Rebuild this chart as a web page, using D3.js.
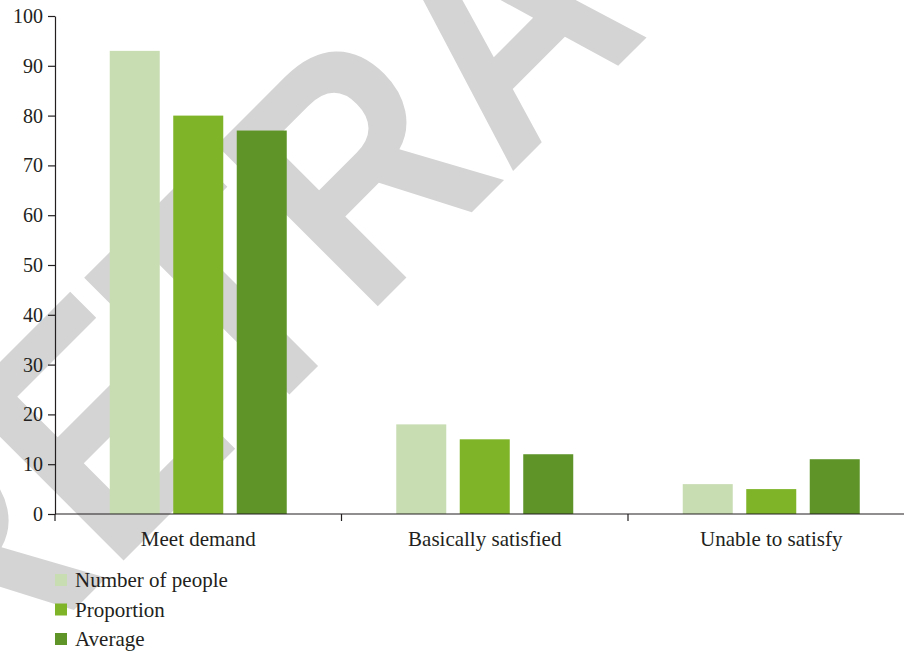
<!DOCTYPE html>
<html>
<head>
<meta charset="utf-8">
<script src="https://cdn.jsdelivr.net/npm/d3@7"></script>
<style>
  html, body { margin: 0; padding: 0; background: #fff; }
  svg { display: block; }
  text { font-family: "Liberation Serif", "Times New Roman", "DejaVu Serif", serif; fill: #231f20; }
</style>
</head>
<body>
<svg id="chart" width="904" height="652"></svg>
<script>
const categories = ["Meet demand", "Basically satisfied", "Unable to satisfy"];
const seriesNames = ["Number of people", "Proportion", "Average"];
const numberOfPeople = [93, 18, 6];
const proportion = [80, 15, 5];
const average = [77, 12, 11];
const yTicks = [0, 10, 20, 30, 40, 50, 60, 70, 80, 90, 100];
const colors = ["#c9ddb3", "#7fb428", "#5e9428"];
const watermarkText = "RETRACTED";

(function () {
const seriesValues = [numberOfPeople, proportion, average];
const rows = categories.map((c, i) => ({
  category: c,
  values: seriesNames.map((s, j) => ({ series: s, value: seriesValues[j][i] }))
}));

const svg = d3.select("#chart");
const W = 904;
const mLeft = 55, mBottom = 514, mTop = 16;
const bandWidth = 286.5;
const serif = "'Liberation Serif', 'Times New Roman', serif";

// watermark (behind the chart)
const wmSize = 331, wmScaleX = 0.85;
const wmG = svg.append("g");
const wm = wmG.append("text")
  .attr("x", 0).attr("y", 0)
  .style("font-family", "'Liberation Sans', Arial, sans-serif")
  .style("font-weight", "bold")
  .style("font-size", wmSize + "px")
  .style("fill", "#d4d4d4")
  .text(watermarkText);
let p3 = 0;
try { p3 = wm.node().getStartPositionOfChar(3).x; } catch (e) { p3 = 2.0 * wmSize; }
const lx = (p3 + 0.073 * wmSize) * wmScaleX;
const c45 = Math.SQRT1_2;
const tx = 379 - c45 * lx, ty = 305 + c45 * lx;
wmG.attr("transform", `translate(${tx},${ty}) rotate(-45) scale(${wmScaleX},1)`);

const x0 = d3.scaleBand().domain(categories)
  .range([mLeft, mLeft + bandWidth * categories.length]).padding(0);
const groupWidth = 177;
const x1 = d3.scaleBand().domain(seriesNames)
  .range([(bandWidth - groupWidth) / 2, (bandWidth + groupWidth) / 2])
  .paddingInner(0.2125).paddingOuter(0);
const y = d3.scaleLinear().domain([0, 100]).range([mBottom, mTop]);
const color = d3.scaleOrdinal().domain(seriesNames).range(colors);

// bars
const g = svg.append("g");
g.selectAll("g.grp").data(rows).join("g")
  .attr("class", "grp")
  .attr("transform", d => `translate(${x0(d.category)},0)`)
  .selectAll("rect").data(d => d.values).join("rect")
  .attr("x", d => x1(d.series))
  .attr("width", x1.bandwidth())
  .attr("y", d => y(d.value))
  .attr("height", d => y(0) - y(d.value))
  .attr("fill", d => color(d.series));

// y axis
const yAxis = svg.append("g")
  .attr("transform", `translate(${mLeft},0)`)
  .call(d3.axisLeft(y).tickValues(yTicks).tickSize(7).tickPadding(5).tickSizeOuter(0));
yAxis.attr("font-family", null);
yAxis.select(".domain").attr("stroke", "#231f20").attr("stroke-width", 1.2);
yAxis.selectAll(".tick line").attr("stroke", "#231f20").attr("stroke-width", 1.2);
yAxis.selectAll("text").style("font-size", "20px").attr("fill", "#231f20")
  .style("font-family", serif);

// x axis line
svg.append("line")
  .attr("x1", mLeft).attr("x2", W)
  .attr("y1", mBottom).attr("y2", mBottom)
  .attr("stroke", "#231f20").attr("stroke-width", 1.2);

// boundary ticks
svg.append("g").selectAll("line").data(categories).join("line")
  .attr("x1", d => x0(d)).attr("x2", d => x0(d))
  .attr("y1", mBottom).attr("y2", mBottom + 7)
  .attr("stroke", "#231f20").attr("stroke-width", 1.2);

// category labels
const xAxis = svg.append("g")
  .attr("transform", `translate(0,${mBottom})`)
  .call(d3.axisBottom(x0).tickSize(0).tickPadding(17));
xAxis.attr("font-family", null);
xAxis.select(".domain").remove();
xAxis.selectAll("text").style("font-size", "21px").attr("fill", "#231f20")
  .style("font-family", serif);

// legend
const legend = svg.append("g").attr("transform", "translate(55,587)");
const li = legend.selectAll("g").data(seriesNames).join("g")
  .attr("transform", (d, i) => `translate(0,${i * 29.5})`);
li.append("rect").attr("x", 0).attr("y", -13).attr("width", 12).attr("height", 12)
  .attr("fill", d => color(d));
li.append("text").attr("x", 20).attr("y", 0)
  .style("font-family", serif)
  .style("font-size", "21px").text(d => d);
})();
</script>
</body>
</html>
